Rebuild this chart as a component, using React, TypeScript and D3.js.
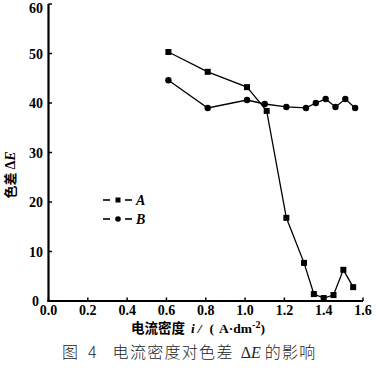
import React from "react";
import * as d3 from "d3";

const xTicks = [0.0, 0.2, 0.4, 0.6, 0.8, 1.0, 1.2, 1.4, 1.6];
const yTicks = [0, 10, 20, 30, 40, 50, 60];

const xA = [0.61, 0.81, 1.01, 1.11, 1.21, 1.30, 1.35, 1.40, 1.45, 1.50, 1.55];
const yA = [50.3, 46.3, 43.2, 38.4, 16.8, 7.7, 1.4, 0.6, 1.2, 6.3, 2.8];
const xB = [0.61, 0.81, 1.01, 1.10, 1.21, 1.31, 1.36, 1.41, 1.46, 1.51, 1.56];
const yB = [44.6, 39.0, 40.6, 39.8, 39.2, 39.0, 40.0, 40.8, 39.2, 40.8, 39.0];

const seriesNames = ["A", "B"];

export default function App() {
  const x = d3.scaleLinear().domain([0, 1.6]).range([48.5, 363]);
  const y = d3.scaleLinear().domain([0, 60]).range([301, 4]);
  const line = d3
    .line<[number, number]>()
    .x((d) => x(d[0]))
    .y((d) => y(d[1]));
  const dataA: [number, number][] = xA.map((v, i) => [v, yA[i]]);
  const dataB: [number, number][] = xB.map((v, i) => [v, yB[i]]);
  const numFont = "'Liberation Serif', 'DejaVu Serif', serif";
  const cjkFont = "'Noto Sans CJK SC', sans-serif";

  return (
    <svg
      width={376}
      height={376}
      style={{ position: "absolute", left: 0, top: 0, background: "#fff" }}
    >
      {/* axes */}
      <line x1={x(0)} x2={x(0)} y1={y(60)} y2={y(0) + 1} stroke="#000" strokeWidth={2.2} />
      <line x1={x(0) - 1} x2={x(1.6)} y1={y(0)} y2={y(0)} stroke="#000" strokeWidth={2.2} />
      {xTicks.map((t) => (
        <g key={"xt" + t}>
          <line x1={x(t)} x2={x(t)} y1={y(0)} y2={y(0) - 3.5} stroke="#000" strokeWidth={1.5} />
          <text
            x={x(t)}
            y={315}
            textAnchor="middle"
            fontFamily={numFont}
            fontSize={14}
            fontWeight={600}
          >
            {t.toFixed(1)}
          </text>
        </g>
      ))}
      {yTicks.map((t) => (
        <g key={"yt" + t}>
          <line x1={x(0)} x2={x(0) + 3.5} y1={y(t)} y2={y(t)} stroke="#000" strokeWidth={1.5} />
          <text
            x={t === 0 ? 39 : 43}
            y={t === 60 ? y(t) + 9 : y(t) + 5}
            textAnchor="end"
            fontFamily={numFont}
            fontSize={14}
            fontWeight={600}
          >
            {t}
          </text>
        </g>
      ))}

      {/* series lines */}
      <path d={line(dataA) || ""} fill="none" stroke="#000" strokeWidth={1.3} />
      <path d={line(dataB) || ""} fill="none" stroke="#000" strokeWidth={1.3} />
      {dataA.map((d, i) => (
        <rect key={"a" + i} x={x(d[0]) - 3} y={y(d[1]) - 3} width={6} height={6} fill="#000" />
      ))}
      {dataB.map((d, i) => (
        <circle key={"b" + i} cx={x(d[0])} cy={y(d[1])} r={3.2} fill="#000" />
      ))}

      {/* legend */}
      {seriesNames.map((name, i) => {
        const ly = 200 + i * 19;
        return (
          <g key={"lg" + name}>
            <line x1={103} x2={110} y1={ly} y2={ly} stroke="#000" strokeWidth={1.6} />
            <line x1={125} x2={132} y1={ly} y2={ly} stroke="#000" strokeWidth={1.6} />
            {i === 0 ? (
              <rect x={115.5} y={ly - 2.5} width={5} height={5} fill="#000" />
            ) : (
              <circle cx={118} cy={ly} r={2.8} fill="#000" />
            )}
            <text
              x={136}
              y={ly + 5}
              fontFamily={numFont}
              fontStyle="italic"
              fontWeight={600}
              fontSize={14}
            >
              {name}
            </text>
          </g>
        );
      })}

      {/* y label */}
      <text
        transform="translate(15,175) rotate(-90)"
        textAnchor="middle"
        fontFamily={cjkFont}
        fontWeight={700}
        fontSize={13}
        style={{ whiteSpace: "pre" }}
      >
        {"色差 "}
        <tspan fontFamily={numFont} fontSize={14}>Δ</tspan>
        <tspan fontFamily={numFont} fontSize={14} fontStyle="italic">E</tspan>
      </text>

      {/* x label */}
      <text
        x={131}
        y={333}
        fontFamily={cjkFont}
        fontWeight={700}
        fontSize={13.5}
        style={{ whiteSpace: "pre" }}
      >
        电流密度
        <tspan fontFamily={numFont} fontStyle="italic" dx={6}>i</tspan>
        <tspan fontFamily={numFont} fontStyle="italic" dx={3}>/</tspan>
        <tspan fontFamily={numFont} dx={8}>(</tspan>
        <tspan fontFamily={numFont} dx={5}>A·dm</tspan>
        <tspan fontFamily={numFont} fontSize={10} dy={-5}>-2</tspan>
        <tspan fontFamily={numFont} dy={5}>)</tspan>
      </text>

      {/* caption */}
      <text
        x={62}
        y={358}
        fontFamily={cjkFont}
        fontWeight={300}
        fontSize={16}
        fill="#222"
        style={{ whiteSpace: "pre" }}
      >
        <tspan>图</tspan>
        <tspan dx={10}>4</tspan>
        <tspan dx={16} letterSpacing={1.3}>电流密度对色差</tspan>
        <tspan fontFamily={numFont} dx={7}>Δ</tspan>
        <tspan fontFamily={numFont} fontStyle="italic">E</tspan>
        <tspan dx={4} letterSpacing={1.3}>的影响</tspan>
      </text>
    </svg>
  );
}
